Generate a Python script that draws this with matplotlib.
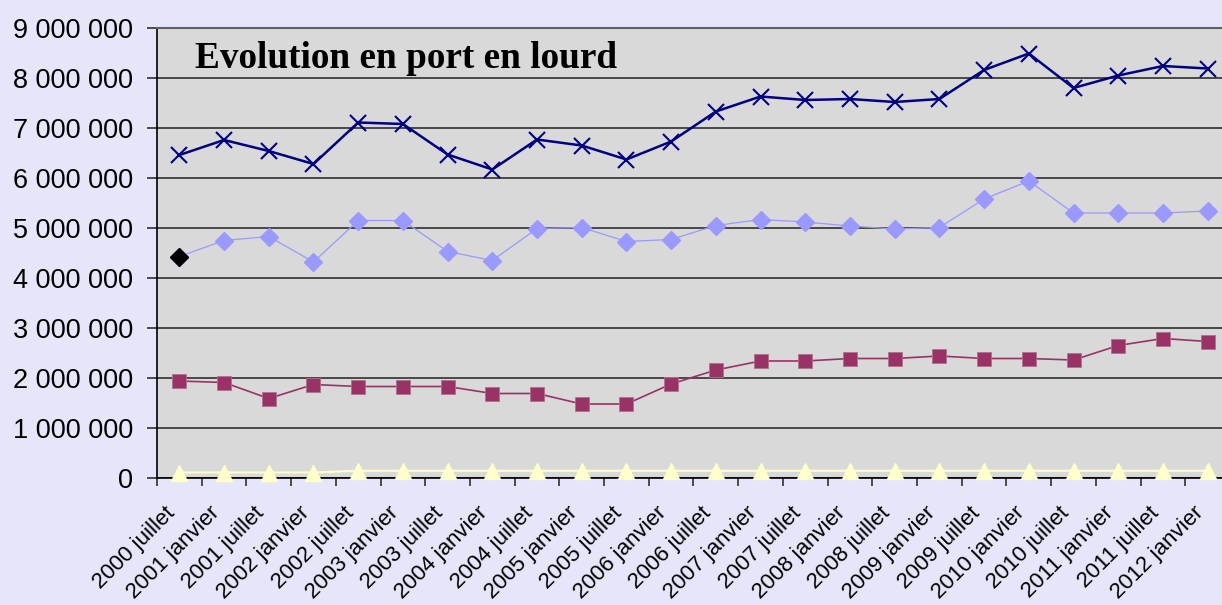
import numpy as np
import matplotlib.pyplot as plt

periods = ["2000 juillet", "2001 janvier", "2001 juillet", "2002 janvier", "2002 juillet",
           "2003 janvier", "2003 juillet", "2004 janvier", "2004 juillet", "2005 janvier",
           "2005 juillet", "2006 janvier", "2006 juillet", "2007 janvier", "2007 juillet",
           "2008 janvier", "2008 juillet", "2009 janvier", "2009 juillet", "2010 janvier",
           "2010 juillet", "2011 janvier", "2011 juillet", "2012 janvier"]

# values in millions of tonnes
total = [6.45, 6.75, 6.53, 6.27, 7.10, 7.07, 6.46, 6.16, 6.76, 6.64, 6.36, 6.72,
         7.32, 7.62, 7.55, 7.57, 7.51, 7.57, 8.15, 8.48, 7.79, 8.04, 8.23, 8.18]
serie2 = [4.42, 4.74, 4.82, 4.31, 5.14, 5.14, 4.52, 4.34, 4.98, 5.00, 4.72, 4.76,
          5.04, 5.16, 5.11, 5.03, 4.97, 5.00, 5.57, 5.93, 5.29, 5.29, 5.29, 5.33]
serie3 = [1.93, 1.90, 1.58, 1.86, 1.82, 1.82, 1.82, 1.68, 1.68, 1.47, 1.47, 1.87,
          2.15, 2.33, 2.33, 2.38, 2.38, 2.43, 2.38, 2.38, 2.35, 2.64, 2.78, 2.72]
serie4 = [0.10, 0.10, 0.10, 0.10, 0.135, 0.135, 0.135, 0.135, 0.135, 0.135, 0.135, 0.135,
          0.135, 0.135, 0.135, 0.135, 0.135, 0.135, 0.135, 0.135, 0.135, 0.135, 0.135, 0.135]

fig = plt.figure(figsize=(12.22, 6.05), dpi=100, facecolor='#E6E6FA')
ax = fig.add_axes([157 / 1222, 127.5 / 605, 1073 / 1222, 450 / 605])
ax.set_facecolor('#D9D9D9')

x = np.arange(len(periods))
scale = 1e6
ax.plot(x, np.array(serie4) * scale, color='#FFFFCC', lw=1.5, marker='^', ms=11,
        mfc='#FFFFCC', mec='#FFFFCC', zorder=3, clip_on=False)
ax.plot(x, np.array(serie3) * scale, color='#993366', lw=1.2, marker='s', ms=9.5,
        mfc='#993366', mec='#B07090', mew=0.6, zorder=3)
ax.plot(x, np.array(serie2) * scale, color='#9999FF', lw=0.9, marker='D', ms=9.5,
        mfc='#9999FF', mec='#9999FF', zorder=3)
ax.plot(x[:1], np.array(serie2[:1]) * scale, ls='none', marker='D', ms=9.5,
        color='black', zorder=4)
ax.plot(x, np.array(total) * scale, color='#000080', lw=1.8, marker='x', ms=11.5,
        mew=1.5, zorder=3)

ax.set_xlim(-0.5, len(periods) - 0.5)
ax.set_ylim(0, 9e6)
ax.set_yticks(np.arange(0, 9e6 + 1, 1e6))
ax.set_yticklabels([f"{int(v):,}".replace(",", " ") for v in np.arange(0, 9e6 + 1, 1e6)],
                   fontsize=19.5, family='Liberation Sans')
ax.yaxis.grid(True, color='#202020', lw=1.1)
ax.set_axisbelow(True)

ax.set_xticks(x)
ax.set_xticklabels(periods, rotation=45, ha='right', va='top',
                   fontsize=16, family='Liberation Sans')
ax.set_xticks(np.arange(-0.5, len(periods)), minor=True)
ax.tick_params(axis='x', which='major', length=0, pad=18)
ax.tick_params(axis='x', which='minor', length=6, width=1.2, color='#303030')
ax.tick_params(axis='y', length=7, width=1.2, color='#303030', pad=10)

ax.spines['right'].set_visible(False)
ax.spines['top'].set_color('#606060')
ax.spines['top'].set_linewidth(1.5)
ax.spines['left'].set_linewidth(1.2)
ax.spines['bottom'].set_linewidth(1.2)

ax.text(0.035, 0.93, "Evolution en port en lourd", transform=ax.transAxes,
        fontsize=26.8, fontweight='bold', family='Liberation Serif', va='center')

fig.savefig('out.png', dpi=100, facecolor=fig.get_facecolor())
